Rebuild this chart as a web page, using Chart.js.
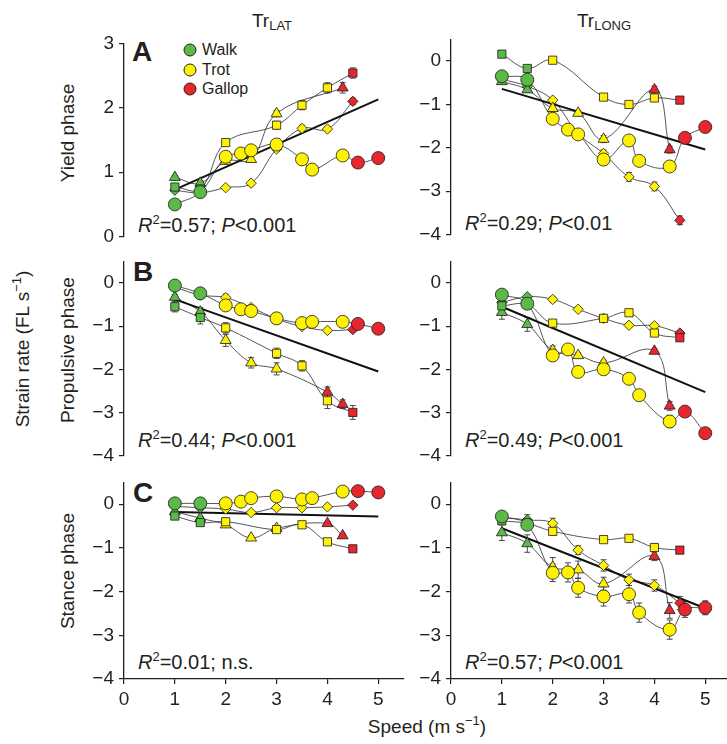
<!DOCTYPE html>
<html>
<head>
  <title>Strain rate vs speed</title>
  <script src="https://cdn.jsdelivr.net/npm/chart.js@4"></script>
  <style>
    html, body {
      margin: 0;
      padding: 0;
      overflow: hidden;
      background: #fff;
    }

    body {
      width: 727px;
      height: 744px;
      position: relative;
      font-family: 'Liberation Sans', Arial, Helvetica, sans-serif;
      color: #231f20;
    }

    canvas { position: absolute; }

    .txt {
      position: absolute;
      white-space: nowrap;
      line-height: 1;
    }

    .rot { transform: translate(-50%, -50%) rotate(-90deg); }
    .centre { transform: translateX(-50%); }
    .sub { font-size: 13px; position: relative; top: 3px; }
    .sup { font-size: 13px; position: relative; top: -8px; }
    .stat { font-size: 20px; }
    .letter { font-size: 28px; font-weight: bold; }
    .dot {
      position: absolute;
      width: 11px;
      height: 11px;
      border-radius: 50%;
      border: 1px solid #222;
      transform: translate(-50%, -50%);
    }
    .key { font-size: 16px; transform: translateY(-50%); }
  </style>
</head>
<body>

  <div class="txt centre" style="left:272px; top:11px; font-size:19px">Tr<span class="sub">LAT</span></div>
  <div class="txt centre" style="left:604px; top:11px; font-size:19px">Tr<span class="sub">LONG</span></div>

  <div class="txt letter" style="left:132px; top:38px">A</div>
  <div class="txt letter" style="left:133px; top:258px">B</div>
  <div class="txt letter" style="left:133px; top:479px">C</div>

  <div class="dot" style="left:190px; top:50px; background:#5ab947"></div>
  <div class="dot" style="left:190px; top:70px; background:#fff200"></div>
  <div class="dot" style="left:190px; top:89px; background:#e8262d"></div>
  <div class="txt key" style="left:202px; top:50px">Walk</div>
  <div class="txt key" style="left:202px; top:70px">Trot</div>
  <div class="txt key" style="left:202px; top:89px">Gallop</div>

  <div class="txt stat" style="left:138px; top:215px"><i>R</i><span class="sup">2</span>=0.57; <i>P</i>&lt;0.001</div>
  <div class="txt stat" style="left:465px; top:213px"><i>R</i><span class="sup">2</span>=0.29; <i>P</i>&lt;0.01</div>
  <div class="txt stat" style="left:138px; top:430px"><i>R</i><span class="sup">2</span>=0.44; <i>P</i>&lt;0.001</div>
  <div class="txt stat" style="left:465px; top:430px"><i>R</i><span class="sup">2</span>=0.49; <i>P</i>&lt;0.001</div>
  <div class="txt stat" style="left:138px; top:652px"><i>R</i><span class="sup">2</span>=0.01; n.s.</div>
  <div class="txt stat" style="left:465px; top:652px"><i>R</i><span class="sup">2</span>=0.57; <i>P</i>&lt;0.001</div>

  <div class="txt rot" style="left:22px; top:349px; font-size:19px">Strain rate (FL s<span class="sup">−1</span>)</div>
  <div class="txt rot" style="left:67px; top:133px; font-size:19px">Yield phase</div>
  <div class="txt rot" style="left:67px; top:350px; font-size:19px">Propulsive phase</div>
  <div class="txt rot" style="left:67px; top:571px; font-size:19px">Stance phase</div>
  <div class="txt centre" style="left:427px; top:717px; font-size:19px">Speed (m s<span class="sup">−1</span>)</div>

  <script>
    // speeds (m/s) each symbol was sampled at, and the gait for each point
    const speedCircle = [1, 1.5, 2, 2.3, 2.5, 3, 3.5, 3.7, 4.3, 4.6, 5];
    const speedSquare = [1, 1.5, 2, 3, 3.5, 4, 4.5];
    const speedTriangle = [1, 1.5, 2, 2.5, 3, 4, 4.3];
    const speedDiamond = [1, 1.5, 2, 2.5, 3, 3.5, 4, 4.5];
    const fitSpeed = [1, 5];

    const gaitCircle = ['walk', 'walk', 'trot', 'trot', 'trot', 'trot', 'trot', 'trot', 'trot', 'gallop', 'gallop'];
    const gaitSquare = ['walk', 'walk', 'trot', 'trot', 'trot', 'trot', 'gallop'];
    const gaitTriangle = ['walk', 'walk', 'trot', 'trot', 'trot', 'gallop', 'gallop'];
    const gaitDiamond = ['walk', 'walk', 'trot', 'trot', 'trot', 'trot', 'trot', 'gallop'];

    // A - yield phase, TrLAT
    const yieldLatCircle = [0.50, 0.69, 1.24, 1.29, 1.34, 1.43, 1.20, 1.04, 1.26, 1.15, 1.22];
    const yieldLatSquare = [0.77, 0.74, 1.46, 1.73, 2.04, 2.31, 2.54];
    const yieldLatTriangle = [0.92, 0.83, 1.17, 1.20, 1.91, null, 2.31];
    const yieldLatDiamond = [0.72, 0.68, 0.76, 0.83, 1.36, 1.68, 1.67, 2.10];
    const yieldLatFit = [0.73, 2.13];
    const yieldLatCircleErr = [0.02, 0.03, 0.04, 0.04, 0.04, 0.04, 0.04, 0.04, 0.05, 0.05, 0.05];
    const yieldLatSquareErr = [0.03, 0.03, 0.05, 0.06, 0.07, 0.08, 0.08];
    const yieldLatTriangleErr = [0.03, 0.03, 0.04, 0.04, 0.05, 0, 0.08];
    const yieldLatDiamondErr = [0.02, 0.02, 0.03, 0.03, 0.04, 0.05, 0.04, 0.05];

    // A - yield phase, TrLONG
    const yieldLongCircle = [-0.35, -0.43, -1.33, -1.58, -1.69, -2.27, -1.83, -2.30, -2.43, -1.77, -1.52];
    const yieldLongSquare = [0.16, -0.17, 0.02, -0.83, -1.00, -0.85, -0.90];
    const yieldLongTriangle = [-0.47, -0.66, -1.09, -1.20, -1.80, -0.66, -2.04];
    const yieldLongDiamond = [-0.42, -0.58, -0.90, -1.67, -2.13, -2.67, -2.89, -3.67];
    const yieldLongFit = [-0.64, -2.04];
    const yieldLongCircleErr = [0.05, 0.05, 0.08, 0.06, 0.08, 0.08, 0.08, 0.06, 0.08, 0.08, 0.06];
    const yieldLongSquareErr = [0.04, 0.05, 0.05, 0.06, 0.06, 0.06, 0.05];
    const yieldLongTriangleErr = [0.05, 0.06, 0.08, 0.06, 0.08, 0.08, 0.08];
    const yieldLongDiamondErr = [0.04, 0.05, 0.06, 0.06, 0.08, 0.10, 0.10, 0.10];

    // B - propulsive phase, TrLAT
    const propLatCircle = [-0.06, -0.24, -0.52, -0.61, -0.65, -0.82, -0.93, -0.90, -0.90, -0.95, -1.06];
    const propLatSquare = [-0.55, -0.80, -1.04, -1.63, -1.92, -2.73, -3.00];
    const propLatTriangle = [-0.33, -0.67, -1.33, -1.85, -1.99, -2.53, -2.81];
    const propLatDiamond = [-0.10, -0.28, -0.34, -0.57, -0.83, -1.01, -1.10, -1.08];
    const propLatFit = [-0.38, -2.05];
    const propLatCircleErr = [0.03, 0.04, 0.06, 0.05, 0.05, 0.06, 0.06, 0.05, 0.05, 0.05, 0.05];
    const propLatSquareErr = [0.12, 0.15, 0.12, 0.12, 0.12, 0.18, 0.16];
    const propLatTriangleErr = [0.06, 0.10, 0.14, 0.12, 0.14, 0.12, 0.10];
    const propLatDiamondErr = [0.03, 0.04, 0.08, 0.05, 0.06, 0.05, 0.05, 0.05];

    // B - propulsive phase, TrLONG
    const propLongCircle = [-0.27, -0.48, -1.68, -1.54, -2.06, -2.00, -2.22, -2.60, -3.21, -2.98, -3.48];
    const propLongSquare = [-0.53, -0.50, -0.93, -0.82, -0.69, -1.16, -1.27];
    const propLongTriangle = [-0.68, -0.96, -1.56, -1.68, -1.85, -1.58, -2.85];
    const propLongDiamond = [-0.45, -0.32, -0.38, -0.61, -0.82, -0.98, -0.99, -1.16];
    const propLongFit = [-0.55, -2.53];
    const propLongCircleErr = [0.05, 0.06, 0.12, 0.10, 0.12, 0.08, 0.10, 0.10, 0.14, 0.08, 0.06];
    const propLongSquareErr = [0.05, 0.06, 0.08, 0.06, 0.06, 0.06, 0.06];
    const propLongTriangleErr = [0.16, 0.16, 0.10, 0.06, 0.06, 0.05, 0.10];
    const propLongDiamondErr = [0.04, 0.05, 0.06, 0.05, 0.05, 0.05, 0.05, 0.05];

    // C - stance phase, TrLAT
    const stanceLatCircle = [0.02, 0.02, 0.02, 0.06, 0.14, 0.18, 0.11, 0.14, 0.29, 0.30, 0.27];
    const stanceLatSquare = [-0.27, -0.42, -0.40, -0.58, -0.47, -0.86, -1.02];
    const stanceLatTriangle = [-0.17, -0.32, -0.47, -0.77, -0.55, -0.44, -0.72];
    const stanceLatDiamond = [-0.05, -0.08, -0.11, -0.19, -0.08, -0.08, -0.06, -0.02];
    const stanceLatFit = [-0.18, -0.28];
    const stanceLatCircleErr = [0.03, 0.03, 0.04, 0.04, 0.04, 0.04, 0.04, 0.04, 0.04, 0.04, 0.04];
    const stanceLatSquareErr = [0.03, 0.04, 0.04, 0.04, 0.04, 0.05, 0.05];
    const stanceLatTriangleErr = [0.03, 0.04, 0.04, 0.05, 0.04, 0.04, 0.05];
    const stanceLatDiamondErr = [0.02, 0.03, 0.03, 0.03, 0.03, 0.03, 0.03, 0.03];

    // C - stance phase, TrLONG
    const stanceLongCircle = [-0.28, -0.47, -1.57, -1.56, -1.91, -2.11, -2.06, -2.48, -2.87, -2.41, -2.37];
    const stanceLongSquare = [-0.38, -0.44, -0.62, -0.81, -0.78, -0.99, -1.05];
    const stanceLongTriangle = [-0.65, -0.90, -1.44, -1.50, -1.82, -1.19, -2.43];
    const stanceLongDiamond = [-0.30, -0.36, -0.44, -1.05, -1.40, -1.73, -1.86, -2.26];
    const stanceLongFit = [-0.55, -2.38];
    const stanceLongCircleErr = [0.08, 0.10, 0.20, 0.22, 0.22, 0.22, 0.20, 0.22, 0.22, 0.18, 0.16];
    const stanceLongSquareErr = [0.06, 0.08, 0.08, 0.06, 0.05, 0.08, 0.05];
    const stanceLongTriangleErr = [0.18, 0.20, 0.22, 0.20, 0.15, 0.10, 0.18];
    const stanceLongDiamondErr = [0.06, 0.12, 0.12, 0.10, 0.13, 0.13, 0.13, 0.15];

    const GAIT_COLOURS = { walk: '#5ab947', trot: '#fff200', gallop: '#e8262d' };
    const INK = '#231f20';

    const SHAPES = [
      { style: 'circle', radius: 6.5, speeds: speedCircle, gaits: gaitCircle },
      { style: 'rect', radius: 5.8, speeds: speedSquare, gaits: gaitSquare },
      { style: 'triangle', radius: 6.3, speeds: speedTriangle, gaits: gaitTriangle },
      { style: 'rectRot', radius: 5.2, speeds: speedDiamond, gaits: gaitDiamond }
    ];

    const AXIS_W = 50, PLOT_W = 281, PAD_R = 6, PAD_TOP = 15;

    const panels = [
      { left: 124, top: 42, height: 196, yMin: 0, yMax: 3, xAxis: false,
        vals: [yieldLatCircle, yieldLatSquare, yieldLatTriangle, yieldLatDiamond],
        errs: [yieldLatCircleErr, yieldLatSquareErr, yieldLatTriangleErr, yieldLatDiamondErr], fit: yieldLatFit },
      { left: 451, top: 38, height: 198, yMin: -4, yMax: 0.5, xAxis: false,
        vals: [yieldLongCircle, yieldLongSquare, yieldLongTriangle, yieldLongDiamond],
        errs: [yieldLongCircleErr, yieldLongSquareErr, yieldLongTriangleErr, yieldLongDiamondErr], fit: yieldLongFit },
      { left: 124, top: 260, height: 197, yMin: -4, yMax: 0.5, xAxis: false,
        vals: [propLatCircle, propLatSquare, propLatTriangle, propLatDiamond],
        errs: [propLatCircleErr, propLatSquareErr, propLatTriangleErr, propLatDiamondErr], fit: propLatFit },
      { left: 451, top: 260, height: 197, yMin: -4, yMax: 0.5, xAxis: false,
        vals: [propLongCircle, propLongSquare, propLongTriangle, propLongDiamond],
        errs: [propLongCircleErr, propLongSquareErr, propLongTriangleErr, propLongDiamondErr], fit: propLongFit },
      { left: 124, top: 481, height: 198, yMin: -4, yMax: 0.5, xAxis: true,
        vals: [stanceLatCircle, stanceLatSquare, stanceLatTriangle, stanceLatDiamond],
        errs: [stanceLatCircleErr, stanceLatSquareErr, stanceLatTriangleErr, stanceLatDiamondErr], fit: stanceLatFit },
      { left: 451, top: 481, height: 198, yMin: -4, yMax: 0.5, xAxis: true,
        vals: [stanceLongCircle, stanceLongSquare, stanceLongTriangle, stanceLongDiamond],
        errs: [stanceLongCircleErr, stanceLongSquareErr, stanceLongTriangleErr, stanceLongDiamondErr], fit: stanceLongFit }
    ];

    // vertical error bars with caps, drawn under the lines and markers
    const errorBars = {
      id: 'errorBars',
      beforeDatasetsDraw(chart) {
        const ctx = chart.ctx;
        const yScale = chart.scales.y;
        chart.data.datasets.forEach((ds, i) => {
          if (!ds.errors) return;
          const meta = chart.getDatasetMeta(i);
          ctx.save();
          ctx.strokeStyle = '#4a4a4a';
          ctx.lineWidth = 1;
          meta.data.forEach((pt, j) => {
            const e = ds.errors[j];
            const v = ds.data[j].y;
            if (!e || v == null) return;
            const top = yScale.getPixelForValue(v + e);
            const bot = yScale.getPixelForValue(v - e);
            ctx.beginPath();
            ctx.moveTo(pt.x, top); ctx.lineTo(pt.x, bot);
            ctx.moveTo(pt.x - 3, top); ctx.lineTo(pt.x + 3, top);
            ctx.moveTo(pt.x - 3, bot); ctx.lineTo(pt.x + 3, bot);
            ctx.stroke();
          });
          ctx.restore();
        });
      }
    };

    Chart.defaults.font.family = "'Liberation Sans', Arial, Helvetica, sans-serif";
    Chart.defaults.font.size = 19;
    Chart.defaults.color = INK;

    const minus = v => String(v).replace('-', '\u2212');

    function buildPanel(p) {
      const canvas = document.createElement('canvas');
      const padBottom = p.xAxis ? 0 : 15;
      const xH = p.xAxis ? 40 : 0;
      canvas.width = AXIS_W + PLOT_W + PAD_R;
      canvas.height = PAD_TOP + p.height + padBottom + xH;
      canvas.style.left = (p.left - AXIS_W) + 'px';
      canvas.style.top = (p.top - PAD_TOP) + 'px';
      document.body.appendChild(canvas);

      const datasets = [];
      SHAPES.forEach((s, i) => {
        const points = s.speeds.map((x, j) => ({ x: x, y: p.vals[i][j] }));
        datasets.push({
          data: points,
          showLine: true,
          borderColor: '#2b2b2b',
          borderWidth: 0.8,
          pointRadius: 0,
          tension: 0.4,
          spanGaps: true,
          order: 3
        });
        datasets.push({
          data: points,
          showLine: false,
          pointStyle: s.style,
          pointRadius: s.radius,
          pointBackgroundColor: s.gaits.map(g => GAIT_COLOURS[g]),
          pointBorderColor: '#1a1a1a',
          pointBorderWidth: 0.8,
          errors: p.errs[i],
          clip: false,
          order: 1
        });
      });
      datasets.push({
        data: fitSpeed.map((x, j) => ({ x: x, y: p.fit[j] })),
        showLine: true,
        borderColor: '#111',
        borderWidth: 2,
        pointRadius: 0,
        tension: 0,
        order: 2
      });

      new Chart(canvas, {
        type: 'scatter',
        data: { datasets: datasets },
        plugins: [errorBars],
        options: {
          responsive: false,
          devicePixelRatio: 1,
          animation: false,
          events: [],
          layout: { padding: { top: PAD_TOP, right: PAD_R, bottom: padBottom, left: 0 } },
          plugins: { legend: { display: false }, tooltip: { enabled: false } },
          scales: {
            x: {
              type: 'linear',
              display: p.xAxis,
              min: 0,
              max: 5.5,
              afterFit: s => { s.height = xH; },
              ticks: { stepSize: 1, includeBounds: false, padding: 4, maxRotation: 0, color: INK },
              grid: { display: true, drawOnChartArea: false, drawTicks: true, tickLength: 5, color: INK, lineWidth: 1.2 },
              border: { display: true, color: INK, width: 1.3 }
            },
            y: {
              type: 'linear',
              min: p.yMin,
              max: p.yMax,
              afterFit: s => { s.width = AXIS_W; },
              ticks: { stepSize: 1, includeBounds: false, padding: 5, color: INK, callback: minus },
              grid: { display: true, drawOnChartArea: false, drawTicks: true, tickLength: 5, color: INK, lineWidth: 1.2 },
              border: { display: true, color: INK, width: 1.3 }
            }
          }
        }
      });
    }

    panels.forEach(buildPanel);
  </script>

</body>
</html>
